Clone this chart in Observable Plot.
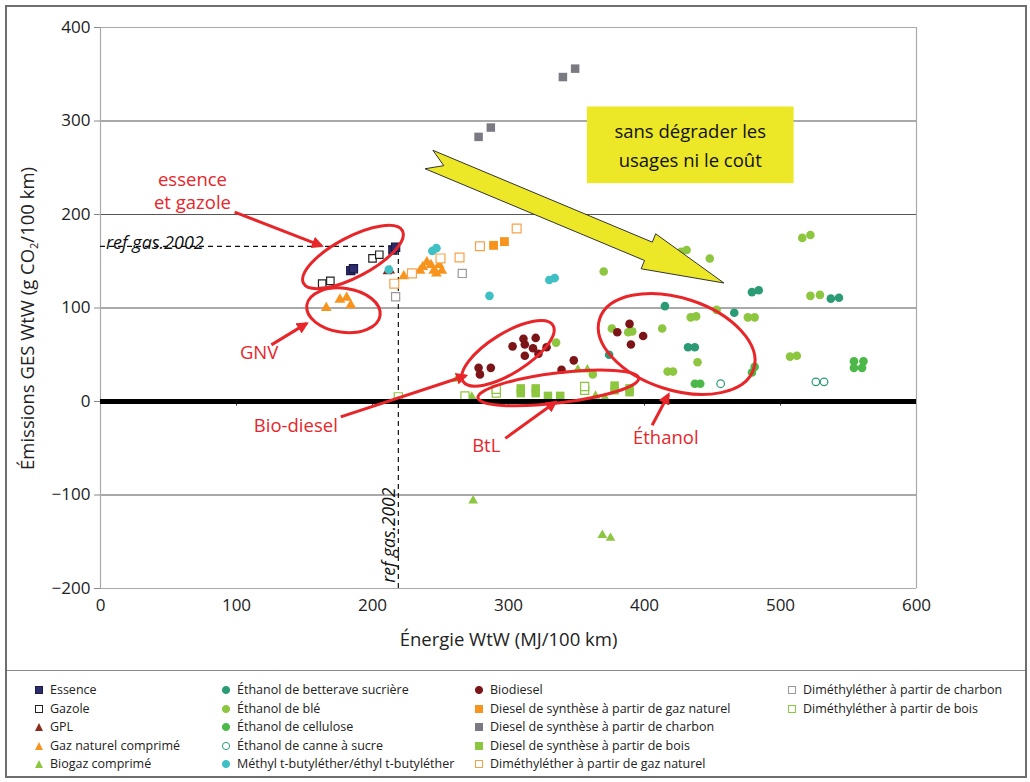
<!DOCTYPE html>
<html><head><meta charset="utf-8">
<script src="https://cdn.jsdelivr.net/npm/d3@7"></script>
<script src="https://cdn.jsdelivr.net/npm/@observablehq/plot@0.6"></script>
<style>
body{margin:0;background:#fff;}
#wrap{position:relative;width:1030px;height:782px;overflow:hidden;background:#fff;font-family:"Open Sans",sans-serif;}
#frame{position:absolute;left:5px;top:5px;width:1018px;height:769px;border:2px solid #6e6e6e;pointer-events:none;}
#sep{position:absolute;left:6px;top:670px;width:1020px;height:0;border-top:1.5px solid #8a8a8a;}
#chart{position:absolute;left:0;top:0;}
#legend{position:absolute;left:0;top:682px;width:1030px;height:95px;font-size:12.5px;color:#222;}
.li{position:absolute;white-space:nowrap;line-height:16px;}
.li svg{position:absolute;left:-16px;top:3px;}
</style></head>
<body><div id="wrap"><div id="chart"></div><div id="sep"></div><div id="legend"></div><div id="frame"></div></div>
<script>
// ---------- data (x: Énergie WtW MJ/100 km, y: Émissions GES WtW g CO2/100 km)
const xTicks = [0,100,200,300,400,500,600];
const yTicks = [-200,-100,0,100,200,300,400];
const gridY = [300,200,100,-100];
const refGas = {x: 219, y: 166};

const essence = [[184,140],[186,142],[215,162],[217,165]];
const gazole = [[163,126],[169,129],[200,153],[205,157]];
const gpl = [[211,139],[213,140]];
const gnc = [[166,100],[176,109],[181,111],[184,103],[223,134],[235,140],[237,144],[240,149],[243,146],[245,140],[249,146],[251,140],[247,137]];
const biogaz = [[274,-106],[369,-143],[375,-146],[262,24],[351,34],[358,34],[273,5],[364,6],[371,4]];
const betterave = [[479,117],[484,119],[537,110],[543,111],[415,102],[466,95],[432,58],[437,58],[374,50]];
const ble = [[516,175],[522,178],[427,160],[431,162],[448,153],[370,139],[522,113],[529,114],[453,98],[434,90],[438,91],[476,90],[481,90],[376,78],[388,74],[391,75],[413,78],[439,42],[417,32],[421,32],[507,48],[512,49],[362,29],[335,63]];
const cellulose = [[437,19],[441,19],[481,37],[479,31],[554,43],[561,43],[554,36],[560,36]];
const canne = [[456,19],[526,21],[532,21]];
const mtbe = [[212,141],[244,161],[247,164],[286,113],[330,130],[334,132]];
const biodiesel = [[278,36],[279,29],[287,36],[303,59],[311,67],[312,61],[320,68],[318,57],[312,49],[322,51],[328,58],[348,44],[339,34],[389,83],[380,74],[399,70],[390,61]];
const dsGaz = [[289,167],[297,171]];
const dsCharbon = [[278,283],[287,293],[340,347],[349,356]];
const dsBois = [[309,9],[309,14],[320,9],[320,14],[329,6],[338,6],[378,12],[378,17],[389,10],[389,14]];
const dmeGaz = [[216,126],[229,137],[250,153],[264,154],[279,166],[306,185]];
const dmeCharbon = [[217,112],[266,137]];
const dmeBois = [[219,5],[268,6],[291,9],[291,13],[356,12],[356,16]];

const labels = ["essence|et gazole","GNV","Bio-diesel","BtL","Éthanol"];

// ---------- series styling
const series = [
  {name:"Essence", d:essence, sym:"square", fill:"#2d2c6c", stroke:"#1b1a45", r:4.6},
  {name:"Gazole", d:gazole, sym:"square", fill:"white", stroke:"#222", r:4.2},
  {name:"GPL", d:gpl, sym:"triangle", fill:"#8c2b1b", stroke:"none", r:3.6},
  {name:"Gaz naturel comprimé", d:gnc, sym:"triangle", fill:"#f7941d", stroke:"none", r:4.0},
  {name:"Biogaz comprimé", d:biogaz, sym:"triangle", fill:"#8dc63f", stroke:"none", r:3.6},
  {name:"Éthanol de betterave sucrière", d:betterave, sym:"circle", fill:"#2b9b75", stroke:"none", r:4.3},
  {name:"Éthanol de blé", d:ble, sym:"circle", fill:"#8dc63f", stroke:"none", r:4.3},
  {name:"Éthanol de cellulose", d:cellulose, sym:"circle", fill:"#4cb848", stroke:"none", r:4.3},
  {name:"Éthanol de canne à sucre", d:canne, sym:"circle", fill:"white", stroke:"#2b9b75", r:3.8},
  {name:"Méthyl t-butyléther/éthyl t-butyléther", d:mtbe, sym:"circle", fill:"#3fc0c4", stroke:"none", r:4.3},
  {name:"Biodiesel", d:biodiesel, sym:"circle", fill:"#7b1517", stroke:"none", r:4.3},
  {name:"Diesel de synthèse à partir de gaz naturel", d:dsGaz, sym:"square", fill:"#f7941d", stroke:"none", r:5.0},
  {name:"Diesel de synthèse à partir de charbon", d:dsCharbon, sym:"square", fill:"#7a7a82", stroke:"none", r:4.8},
  {name:"Diesel de synthèse à partir de bois", d:dsBois, sym:"square", fill:"#8dc63f", stroke:"none", r:4.8},
  {name:"Diméthyléther à partir de gaz naturel", d:dmeGaz, sym:"square", fill:"white", stroke:"#f7a24a", r:5.0},
  {name:"Diméthyléther à partir de charbon", d:dmeCharbon, sym:"square", fill:"white", stroke:"#9a9a9a", r:4.6},
  {name:"Diméthyléther à partir de bois", d:dmeBois, sym:"square", fill:"white", stroke:"#8dc63f", r:4.6}
];

const fmt = d => d < 0 ? "\u2212" + Math.abs(d) : String(d);
const red = "#e8262a";

const dotMarks = series.map(s => Plot.dot(s.d, {x: d=>d[0], y: d=>d[1], symbol: s.sym, fill: s.fill, stroke: s.stroke, strokeWidth: 1.2, r: s.r}));

const plot = Plot.plot({
  width: 1030, height: 670,
  marginLeft: 100, marginRight: 114, marginTop: 27, marginBottom: 82,
  x: {domain: [0,600]},
  y: {domain: [-200,400]},
  style: {fontFamily: "'Open Sans', sans-serif", background: "transparent", overflow: "visible"},
  marks: [
    Plot.ruleY(gridY, {stroke: "#555", strokeWidth: 1.2}),
    Plot.ruleY([400, -200], {stroke: "#aaa", strokeWidth: 1.2}),
    Plot.ruleX([0, 600], {stroke: "#aaa", strokeWidth: 1.2}),
    Plot.axisY(yTicks, {tickSize: 6, tickPadding: 4, stroke: "#888", fontSize: 17, fill: "#222", tickFormat: fmt, label: null}),
    Plot.axisX(xTicks, {tickSize: 0, tickPadding: 10, fontSize: 17, fill: "#222", tickFormat: fmt, label: null}),
    Plot.ruleX(xTicks.slice(1,-1), {x: d=>d, y1: 0, y2: -5, stroke: "#444", strokeWidth: 1}),
    // reference lines
    Plot.ruleY([refGas], {y: "y", x1: 0, x2: "x", stroke: "#111", strokeDasharray: "5,4", strokeWidth: 1.2}),
    Plot.ruleX([refGas], {x: "x", y1: -200, y2: "y", stroke: "#111", strokeDasharray: "5,4", strokeWidth: 1.2}),
    Plot.text(["ref gas.2002"], {x: 4, y: refGas.y, text: d=>d, textAnchor: "start", lineAnchor: "bottom", dy: 3, fontSize: 18, fontStyle: "italic", fill: "#111"}),
    Plot.text(["ref gas.2002"], {x: refGas.x, y: -143, text: d=>d, rotate: -90, textAnchor: "middle", lineAnchor: "bottom", dx: -3, fontSize: 17.5, fontStyle: "italic", fill: "#111"}),
    ...dotMarks,
    Plot.ruleY([0], {stroke: "#000", strokeWidth: 5}),
    Plot.text(["Énergie WtW (MJ/100 km)"], {x: 300, y: -200, text: d=>d, dy: 52, fontSize: 18.5, fill: "#222", lineAnchor: "middle"})
  ]
});
document.getElementById("chart").appendChild(plot);

// ---------- annotations drawn with the plot's own scales
const sx = plot.scale("x"), sy = plot.scale("y");
const X = v => sx.apply(v), Y = v => sy.apply(v);
const svg = d3.select(plot);

// y label with subscript
const yl = svg.append("text").attr("transform", `translate(34,${(Y(-200)+Y(400))/2+11}) rotate(-90)`)
  .attr("text-anchor","middle").attr("font-size", 18.5).attr("fill","#222").attr("font-family","'Open Sans', sans-serif");
yl.append("tspan").text("Émissions GES WtW (g CO");
yl.append("tspan").text("2").attr("font-size", 11).attr("dy", 4);
yl.append("tspan").text("/100 km)").attr("dy", -4);

// yellow box + arrow
const boxD = {x1: 358, x2: 510, y1: 315, y2: 233};
const arrowPoly = [[244.8,268.1],[406.1,169.9],[408.6,178.8],[458.8,126.2],[397.9,141.4],[400.4,150.3],[239.0,248.4],[252.8,251.7]];
svg.append("polygon").attr("points", arrowPoly.map(p=>[X(p[0]),Y(p[1])].join(",")).join(" "))
  .attr("fill","#ece828").attr("stroke","#333").attr("stroke-width",1).attr("stroke-linejoin","miter");
svg.append("rect").attr("x", X(boxD.x1)).attr("y", Y(boxD.y1)).attr("width", X(boxD.x2)-X(boxD.x1)).attr("height", Y(boxD.y2)-Y(boxD.y1)).attr("fill", "#ece828");
const boxLines = ["sans dégrader les","usages ni le coût"];
boxLines.forEach((t,i) => svg.append("text").attr("x", (X(boxD.x1)+X(boxD.x2))/2).attr("y", Y(boxD.y1) + 32 + i*29)
  .attr("text-anchor","middle").attr("font-size", 18.5).attr("fill","#111").attr("font-family","'Open Sans', sans-serif").text(t));

// red ellipses  [cx, cy (data), rx, ry (px), angle]
const ellipses = [[186,154,56,20,-28],[179,97,37,22,8],[300,51,53,20,-32],[337,14,81,15,-7],[424,61,81,46,18]];
ellipses.forEach(e => svg.append("ellipse").attr("cx",0).attr("cy",0).attr("rx",e[2]).attr("ry",e[3])
  .attr("transform",`translate(${X(e[0])},${Y(e[1])}) rotate(${e[4]})`)
  .attr("fill","none").attr("stroke",red).attr("stroke-width",3));

// red arrows [x1,y1,x2,y2] data
const arrows = [[99,202,163,166],[126,60,152,83],[177,-17,269,27],[298,-40,335,-1],[406,-26,418,7]];
svg.append("defs").append("marker").attr("id","ah").attr("viewBox","0 0 10 10").attr("refX",8).attr("refY",5)
  .attr("markerWidth",4).attr("markerHeight",4).attr("orient","auto")
  .append("path").attr("d","M0,0L10,5L0,10z").attr("fill",red);
arrows.forEach(a => svg.append("line").attr("x1",X(a[0])).attr("y1",Y(a[1])).attr("x2",X(a[2])).attr("y2",Y(a[3]))
  .attr("stroke",red).attr("stroke-width",3).attr("marker-end","url(#ah)"));

// red labels [x, y data]
const labelPos = [[68,235],[117,50],[144,-28],[284,-49],[416,-41]];
labels.forEach((t,i) => {
  const parts = t.split("|");
  parts.forEach((p,j) => svg.append("text").attr("x", X(labelPos[i][0])).attr("y", Y(labelPos[i][1]) + j*23)
    .attr("text-anchor","middle").attr("dominant-baseline","middle").attr("font-size",18.5).attr("fill",red)
    .attr("font-family","'Open Sans', sans-serif").text(p));
});

// ---------- legend
const colX = [50, 237, 490, 803];
const rowY = [0, 18.5, 37, 55.5, 74];
const layout = [[0,0],[0,1],[0,2],[0,3],[0,4],[1,0],[1,1],[1,2],[1,3],[1,4],[2,0],[2,1],[2,2],[2,3],[2,4],[3,0],[3,1]];
const leg = document.getElementById("legend");
series.forEach((s,i) => {
  const [c,r] = layout[i];
  const div = document.createElement("div");
  div.className = "li";
  div.style.left = colX[c] + "px"; div.style.top = rowY[r] + "px";
  const sz = 10;
  let shape;
  if (s.sym === "square") shape = `<rect x="1.5" y="1.5" width="7" height="7" fill="${s.fill}" stroke="${s.stroke==='none'?s.fill:s.stroke}" stroke-width="1"/>`;
  else if (s.sym === "triangle") shape = `<path d="M5,1L9,9L1,9Z" fill="${s.fill}"/>`;
  else shape = `<circle cx="5" cy="5" r="3.6" fill="${s.fill}" stroke="${s.stroke==='none'?s.fill:s.stroke}" stroke-width="1"/>`;
  div.innerHTML = `<svg width="${sz}" height="${sz}">${shape}</svg>${s.name}`;
  leg.appendChild(div);
});
</script></body></html>
